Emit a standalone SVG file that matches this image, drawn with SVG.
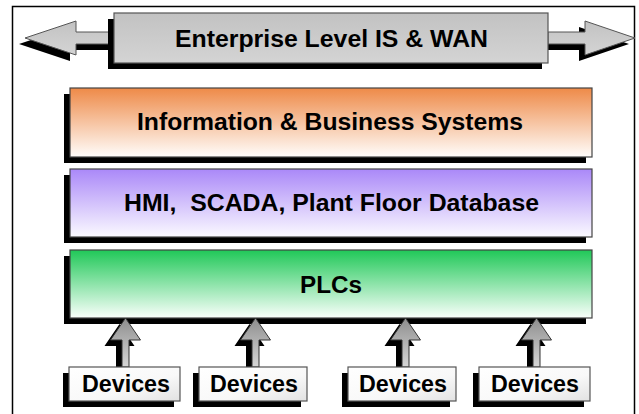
<svg xmlns="http://www.w3.org/2000/svg" width="639" height="414" viewBox="0 0 639 414">
<defs>
<linearGradient id="gOrange" x1="0" y1="0" x2="0" y2="1"><stop offset="0" stop-color="#EE8A48"/><stop offset="1" stop-color="#FFFDFB"/></linearGradient>
<linearGradient id="gPurple" x1="0" y1="0" x2="0" y2="1"><stop offset="0" stop-color="#AA88F8"/><stop offset="1" stop-color="#FBFAFF"/></linearGradient>
<linearGradient id="gGreen" x1="0" y1="0" x2="0" y2="1"><stop offset="0" stop-color="#20C858"/><stop offset="1" stop-color="#FAFFFB"/></linearGradient>
<linearGradient id="gGray" x1="0" y1="0" x2="0" y2="1"><stop offset="0" stop-color="#C2C2C2"/><stop offset="1" stop-color="#D4D4D4"/></linearGradient>
<linearGradient id="gDev" x1="0" y1="0" x2="1" y2="1"><stop offset="0" stop-color="#FFFFFF"/><stop offset="0.6" stop-color="#F8F8F8"/><stop offset="1" stop-color="#E2E2E2"/></linearGradient>
<linearGradient id="gArrow" x1="0" y1="0" x2="0" y2="1"><stop offset="0" stop-color="#8E8E8E"/><stop offset="1" stop-color="#D6D6D6"/></linearGradient>
<style>
.shadow{fill:#000}
.box{stroke:#444;stroke-width:1.2}
.lbl{font-family:"Liberation Sans",Arial,sans-serif;font-weight:bold;font-size:23px;fill:#000;text-anchor:middle}
.arr{fill:url(#gArrow);stroke:#333;stroke-width:1}
.dev{fill:url(#gDev);stroke:#555;stroke-width:1.2}
</style>
</defs>
<rect x="0" y="0" width="639" height="414" fill="#fff"/>
<rect x="12.5" y="6.5" width="622" height="420" fill="none" stroke="#000" stroke-width="1.5"/>

<g id="enterprise">
  <polygon class="shadow" points="108,38 70,38 70,27 19,44 70,61 70,50 108,50"/>
  <polygon points="114,32 76,32 76,21 25,38 76,55 76,44 114,44" fill="url(#gGray)" stroke="#555" stroke-width="1"/>
  <polygon class="shadow" points="542,38 579,38 579,27 629,44 579,61 579,50 542,50"/>
  <polygon points="548,32 585,32 585,21 635,38 585,55 585,44 548,44" fill="url(#gGray)" stroke="#555" stroke-width="1"/>
  <rect class="shadow" x="108" y="19" width="434" height="50"/>
  <rect x="114" y="13" width="434" height="50" fill="url(#gGray)" stroke="#555" stroke-width="1.2"/>
  <text class="lbl" x="331.5" y="47" textLength="313" lengthAdjust="spacingAndGlyphs">Enterprise Level IS &amp; WAN</text>
</g>

<g id="info">
  <rect class="shadow" x="64" y="94" width="522" height="69"/>
  <rect class="box" x="70" y="88" width="522" height="69" fill="url(#gOrange)"/>
  <text class="lbl" x="330" y="130" textLength="386" lengthAdjust="spacingAndGlyphs">Information &amp; Business Systems</text>
</g>

<g id="hmi">
  <rect class="shadow" x="64" y="175" width="522" height="68"/>
  <rect class="box" x="70" y="169" width="522" height="68" fill="url(#gPurple)"/>
  <text class="lbl" x="331.5" y="211" textLength="415" lengthAdjust="spacingAndGlyphs" xml:space="preserve">HMI,  SCADA, Plant Floor Database</text>
</g>

<g id="plcs">
  <rect class="shadow" x="64" y="256" width="522" height="68"/>
  <rect class="box" x="70" y="250" width="522" height="68" fill="url(#gGreen)"/>
  <text class="lbl" x="331" y="293" textLength="62" lengthAdjust="spacingAndGlyphs">PLCs</text>
</g>

<g id="connectors">
  <g transform="translate(125.5,0)">
    <polygon class="shadow" points="-6,324 -21,346 -9.5,346 -9.5,373 -2.5,373 -2.5,346 9,346"/>
    <polygon class="arr" points="0,318 -15,340 -3.5,340 -3.5,367 3.5,367 3.5,340 15,340"/>
  </g>
  <g transform="translate(255.5,0)">
    <polygon class="shadow" points="-6,324 -21,346 -9.5,346 -9.5,373 -2.5,373 -2.5,346 9,346"/>
    <polygon class="arr" points="0,318 -15,340 -3.5,340 -3.5,367 3.5,367 3.5,340 15,340"/>
  </g>
  <g transform="translate(405.5,0)">
    <polygon class="shadow" points="-6,324 -21,346 -9.5,346 -9.5,373 -2.5,373 -2.5,346 9,346"/>
    <polygon class="arr" points="0,318 -15,340 -3.5,340 -3.5,367 3.5,367 3.5,340 15,340"/>
  </g>
  <g transform="translate(536.5,0)">
    <polygon class="shadow" points="-6,324 -21,346 -9.5,346 -9.5,373 -2.5,373 -2.5,346 9,346"/>
    <polygon class="arr" points="0,318 -15,340 -3.5,340 -3.5,367 3.5,367 3.5,340 15,340"/>
  </g>
</g>

<g id="dev1">
  <rect class="shadow" x="63" y="373" width="111" height="34"/>
  <rect class="dev" x="69" y="367" width="111" height="34"/>
  <text class="lbl" x="126" y="392" textLength="88" lengthAdjust="spacingAndGlyphs">Devices</text>
</g>
<g id="dev2">
  <rect class="shadow" x="193" y="373" width="108" height="34"/>
  <rect class="dev" x="199" y="367" width="108" height="34"/>
  <text class="lbl" x="254" y="392" textLength="88" lengthAdjust="spacingAndGlyphs">Devices</text>
</g>
<g id="dev3">
  <rect class="shadow" x="342" y="373" width="108" height="34"/>
  <rect class="dev" x="348" y="367" width="108" height="34"/>
  <text class="lbl" x="403" y="392" textLength="88" lengthAdjust="spacingAndGlyphs">Devices</text>
</g>
<g id="dev4">
  <rect class="shadow" x="473" y="373" width="111" height="34"/>
  <rect class="dev" x="479" y="367" width="111" height="34"/>
  <text class="lbl" x="535" y="392" textLength="88" lengthAdjust="spacingAndGlyphs">Devices</text>
</g>
</svg>
